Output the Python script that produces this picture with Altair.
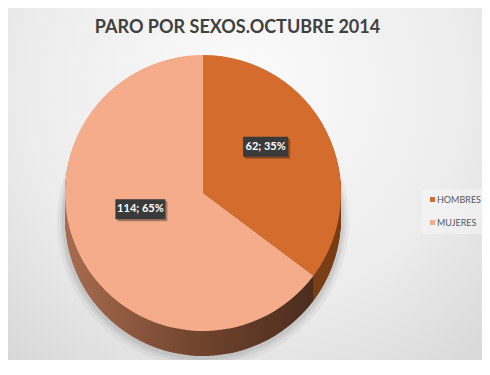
import altair as alt
import pandas as pd

# ---- data ----
categories = ["HOMBRES", "MUJERES"]
values = [62, 114]
labels = ["62; 35%", "114; 65%"]
title_text = "PARO POR SEXOS.OCTUBRE 2014"

top_colors = ["#D36C2C", "#F4AC8A"]
side_hombres = "#7a3e16"

df = pd.DataFrame({"sexo": categories, "valor": values, "etiqueta": labels,
                   "orden": list(range(len(categories)))})

# ---- layout constants (chart coords) ----
W, H = 474, 352
CX, CY, R = 195, 185, 138
DEPTH = 25
LBL_R, LBL_CY = 70, 170

theta = alt.Theta("valor:Q", stack=True)
order = alt.Order("orden:Q")

bg = alt.Chart(pd.DataFrame({"a": [0]})).mark_rect(
    fill=alt.Gradient(gradient="radial", x1=0.5, y1=0.3, r1=0.0, x2=0.5, y2=0.3, r2=0.85,
                      stops=[alt.GradientStop(offset=0, color="#fbfbfb"),
                             alt.GradientStop(offset=0.55, color="#ececec"),
                             alt.GradientStop(offset=1, color="#d2d2d2")])
).encode(x=alt.value(0), x2=alt.value(W), y=alt.value(0), y2=alt.value(H))

layers = [bg]

# soft shadow under the pie
for extra, dy, op in [(8, DEPTH + 3, 0.04), (5, DEPTH + 2, 0.05), (3, DEPTH + 1, 0.06)]:
    layers.append(
        alt.Chart(df).mark_arc(radius=R + extra, fill="#000000", opacity=op).encode(
            theta=theta, order=order, x=alt.value(CX), y=alt.value(CY + dy))
    )

side_grad = {"gradient": "linear", "x1": 0, "y1": 0, "x2": 1, "y2": 0,
             "stops": [{"offset": 0, "color": "#a86c50"},
                       {"offset": 0.5, "color": "#74462f"},
                       {"offset": 1, "color": "#4c2c1e"}]}

for d in range(DEPTH, 0, -1):
    layers.append(
        alt.Chart(df).mark_arc(radius=R).encode(
            theta=theta, order=order, x=alt.value(CX), y=alt.value(CY + d),
            fill=alt.condition(alt.datum.sexo == "HOMBRES", alt.value(side_hombres), alt.value(side_grad)))
    )

top = alt.Chart(df).mark_arc(radius=R).encode(
    theta=theta, order=order, x=alt.value(CX), y=alt.value(CY),
    color=alt.Color("sexo:N", scale=alt.Scale(domain=categories, range=top_colors),
                    legend=alt.Legend(title=None, orient="none", legendX=414, legendY=181,
                                      symbolType="square", symbolSize=25, symbolStrokeWidth=0,
                                      labelFont="Lato", labelFontSize=9,
                                      labelColor="#595959", labelOffset=0, rowPadding=13,
                                      padding=6, fillColor="rgba(255,255,255,0.35)")))
layers.append(top)

# label positions computed from the data
base_lbl = alt.Chart(df).transform_joinaggregate(
    total="sum(valor)"
).transform_window(
    cum="sum(valor)", sort=[alt.SortField("orden")], frame=[None, 0]
).transform_calculate(
    mid="(datum.cum - datum.valor / 2) / datum.total * 2 * PI",
    lx=f"{CX} + {LBL_R} * sin(datum.mid)",
    ly=f"{LBL_CY} - {LBL_R} * cos(datum.mid)",
    bw="length(datum.etiqueta) * 5 + 10",
    bx1="datum.lx - datum.bw / 2",
    bx2="datum.lx + datum.bw / 2",
    by1="datum.ly - 10",
    by2="datum.ly + 10",
)

shadow = base_lbl.transform_calculate(
    sx1="datum.bx1 + 2", sx2="datum.bx2 + 2", sy1="datum.by1 + 2", sy2="datum.by2 + 2"
).mark_rect(fill="#000000", opacity=0.3).encode(
    x=alt.X("sx1:Q", scale=None), x2="sx2:Q", y=alt.Y("sy1:Q", scale=None), y2="sy2:Q")

box = base_lbl.mark_rect(fill="#3a3a3a").encode(
    x=alt.X("bx1:Q", scale=None), x2="bx2:Q", y=alt.Y("by1:Q", scale=None), y2="by2:Q")

txt = base_lbl.mark_text(font="Lato", fontWeight="bold", fontSize=11, color="#ffffff",
                         align="center", baseline="middle").encode(
    x=alt.X("lx:Q", scale=None), y=alt.Y("ly:Q", scale=None), text="etiqueta:N")

title = alt.Chart(pd.DataFrame({"t": [title_text]})).mark_text(
    font="Lato", fontWeight="bold", fontSize=18, color="#404040",
    align="center", baseline="alphabetic").encode(
    x=alt.value(229.5), y=alt.value(25), text="t:N")

layers += [shadow, box, txt, title]

chart = alt.layer(*layers).properties(
    width=W, height=H, padding=0,
    autosize=alt.AutoSizeParams(type="none")
).configure_view(stroke=None).configure(background="#ffffff")

chart.save("out.html", embed_options={"renderer": "svg", "actions": False})
